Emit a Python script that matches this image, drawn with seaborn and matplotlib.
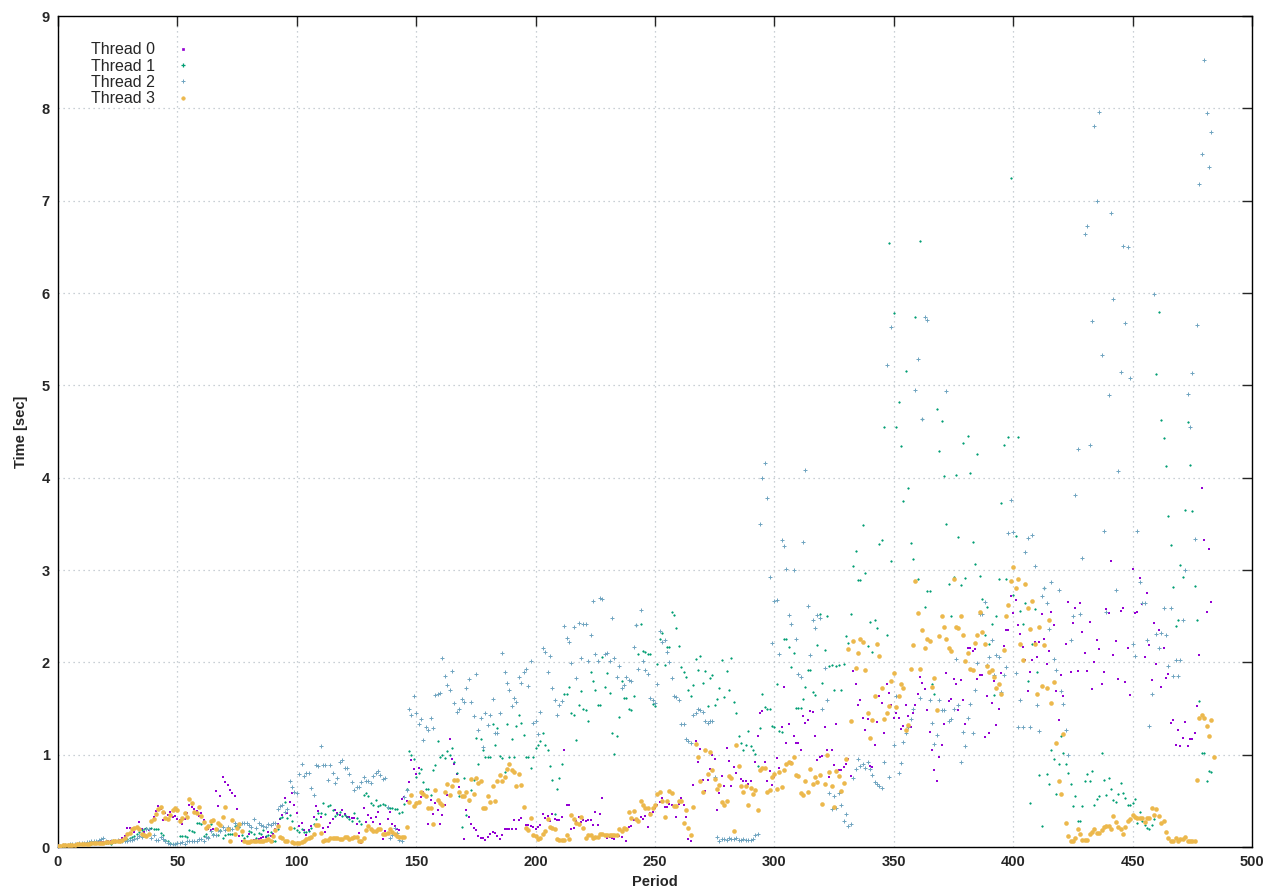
import numpy as np
import pandas as pd
import matplotlib
matplotlib.use('Agg')
import matplotlib.pyplot as plt
from matplotlib.lines import Line2D
import seaborn as sns

# time per period [sec], one value per period
thread0 = [0.01,0.01,0.01,0.02,0.02,0.02,0.02,0.02,0.03,0.03,
           0.03,0.03,0.03,0.04,0.04,0.04,0.04,0.05,0.05,0.05,
           0.05,0.06,0.06,0.06,0.07,0.07,0.08,0.10,0.12,0.21,
           0.21,0.18,0.16,0.22,0.27,0.20,0.16,0.20,0.18,0.20,
           0.32,0.39,0.44,0.41,0.29,0.37,0.35,0.38,0.33,0.34,
           0.30,0.29,0.25,0.30,0.37,0.45,0.43,0.41,0.39,0.34,
           0.37,0.29,0.19,0.20,0.18,0.20,0.61,0.44,0.55,0.76,
           0.70,0.67,0.62,0.58,0.55,0.41,0.12,0.07,0.05,0.05,
           0.14,0.05,0.08,0.08,0.09,0.10,0.11,0.11,0.16,0.12,
           0.14,0.20,0.25,0.30,0.35,0.53,0.37,0.49,0.58,0.45,
           0.37,0.23,0.26,0.18,0.13,0.18,0.23,0.33,0.44,0.39,
           0.33,0.21,0.16,0.22,0.26,0.30,0.40,0.37,0.35,0.40,
           0.36,0.33,0.32,0.31,0.31,0.25,0.15,0.04,0.42,0.27,
           0.35,0.31,0.27,0.32,0.38,0.25,0.09,0.17,0.30,0.38,
           0.25,0.23,0.20,0.18,0.52,0.54,0.50,0.70,0.94,0.85,
           0.79,0.86,0.54,0.60,0.54,0.25,0.51,0.36,0.48,0.40,
           0.25,0.35,0.45,0.56,1.17,0.95,0.90,0.79,0.65,0.54,
           0.09,0.40,0.32,0.25,0.21,0.18,0.12,0.10,0.10,0.08,
           0.11,0.14,0.16,0.15,0.12,0.09,0.13,0.19,0.19,0.19,
           0.19,0.29,0.20,0.29,0.31,0.43,0.24,0.24,0.23,0.22,
           0.20,0.22,0.24,0.36,0.31,0.34,0.28,0.36,0.30,0.29,
           0.29,0.33,1.05,0.45,0.45,0.19,0.21,0.28,0.32,0.27,
           0.29,0.28,0.29,0.29,0.24,0.38,0.24,0.36,0.53,0.12,
           0.10,0.11,0.10,0.09,0.13,0.12,0.11,0.19,0.06,0.22,
           0.23,0.29,0.30,0.29,0.32,0.30,0.34,0.22,0.37,0.38,
           0.42,0.45,0.49,0.53,0.43,0.43,0.47,0.45,0.43,0.32,
           0.47,0.53,0.46,0.32,0.09,0.06,0.67,1.15,0.92,1.06,
           0.73,0.61,0.73,0.85,1.00,0.95,0.40,0.59,0.77,0.66,
           1.07,0.93,0.66,0.87,0.80,0.87,0.74,0.71,0.71,0.68,
           0.71,0.56,0.92,1.20,1.45,1.47,0.92,0.71,0.82,0.67,
           0.76,0.96,0.86,1.30,1.73,1.13,1.33,0.92,1.20,1.13,
           1.13,1.05,1.42,1.34,1.38,1.47,1.46,1.20,0.94,0.97,
           0.99,1.30,1.05,0.76,1.05,0.89,1.33,0.83,0.83,0.87,
           0.90,0.95,0.77,1.91,1.77,1.54,1.59,1.40,1.27,1.39,
           0.88,0.87,1.10,1.35,1.63,1.56,1.23,1.77,1.67,1.54,
           1.40,1.45,1.40,1.28,1.31,1.54,1.42,1.30,1.45,1.54,
           1.66,1.84,1.78,1.71,1.48,1.25,1.05,0.83,0.72,0.98,
           1.11,1.33,1.88,1.58,1.60,1.82,1.77,1.48,1.81,1.59,
           1.33,2.15,2.15,2.12,2.14,1.82,1.86,1.86,1.19,1.63,
           1.24,1.56,1.80,1.32,1.50,1.88,2.18,2.35,2.35,2.72,
           2.53,2.68,2.40,2.31,2.17,2.03,1.69,1.90,2.03,2.22,
           2.06,2.22,2.52,2.25,1.98,2.12,2.54,2.40,1.69,1.38,
           1.86,1.63,2.20,2.65,1.89,2.43,2.59,1.91,2.64,2.33,
           2.10,1.91,2.44,1.71,2.00,2.24,2.14,1.76,1.89,2.58,
           2.53,3.10,2.08,2.23,1.82,2.56,2.59,1.79,2.15,1.65,
           3.01,2.53,2.54,2.91,2.63,2.06,2.75,2.19,1.81,2.43,
           1.98,2.35,1.73,2.15,1.83,1.87,1.34,1.38,1.10,1.27,
           1.09,1.18,1.35,1.09,1.17,1.17,1.23,1.53,2.08,3.89,
           3.33,2.55,3.23,2.65]

thread1 = [0.01,0.01,0.01,0.02,0.02,0.02,0.02,0.02,0.02,0.03,
           0.03,0.03,0.03,0.03,0.03,0.04,0.04,0.04,0.04,0.04,
           0.04,0.04,0.03,0.05,0.05,0.06,0.06,0.07,0.08,0.09,
           0.10,0.11,0.12,0.14,0.16,0.18,0.20,0.21,0.19,0.21,
           0.20,0.20,0.20,0.15,0.13,0.08,0.06,0.04,0.03,0.03,
           0.04,0.12,0.12,0.12,0.11,0.18,0.17,0.16,0.26,0.26,
           0.25,0.12,0.14,0.11,0.25,0.14,0.19,0.13,0.18,0.10,
           0.13,0.14,0.14,0.14,0.23,0.24,0.22,0.13,0.10,0.12,
           0.17,0.16,0.14,0.10,0.15,0.14,0.18,0.12,0.13,0.16,
           0.07,0.07,0.20,0.31,0.33,0.49,0.31,0.35,0.28,0.21,
           0.18,0.16,0.19,0.16,0.16,0.17,0.21,0.25,0.30,0.37,
           0.37,0.48,0.36,0.44,0.45,0.40,0.34,0.36,0.38,0.34,
           0.35,0.32,0.30,0.28,0.37,0.31,0.28,0.25,0.56,0.58,
           0.55,0.48,0.45,0.51,0.44,0.46,0.47,0.46,0.42,0.42,
           0.42,0.41,0.41,0.37,0.38,0.47,0.63,1.04,1.00,0.95,
           0.76,0.80,0.84,0.70,0.63,0.63,0.56,0.83,0.89,1.15,
           0.97,1.00,0.96,1.04,1.00,1.07,0.92,0.80,0.55,0.22,
           0.75,0.35,0.50,0.62,0.73,1.18,0.90,1.17,1.05,0.98,
           0.97,0.97,1.33,1.10,1.29,0.99,0.96,0.81,1.33,0.98,
           1.17,0.97,1.31,1.43,1.34,1.21,0.98,0.98,0.86,0.98,
           1.07,1.10,1.15,1.23,1.10,1.05,0.88,0.73,0.36,0.63,
           0.75,0.90,1.66,1.66,1.73,1.45,1.43,1.16,1.54,1.69,
           1.50,1.48,1.37,1.90,1.80,1.70,1.54,1.54,2.06,1.73,
           1.88,1.67,1.24,1.01,1.20,1.41,1.80,1.61,1.61,1.49,
           1.48,1.64,2.40,2.09,2.42,2.12,2.11,2.09,2.09,1.55,
           1.53,1.98,2.25,2.32,1.97,2.17,2.17,2.54,2.51,2.37,
           2.18,1.95,1.90,1.84,1.70,1.64,1.75,2.04,1.92,2.07,
           1.78,1.91,1.53,1.83,1.86,1.54,1.60,1.72,2.03,1.62,
           1.91,1.70,2.05,1.57,1.45,1.20,1.13,1.05,1.10,1.26,
           1.09,1.05,1.01,0.88,1.29,1.66,1.52,1.50,1.50,1.31,
           1.30,1.76,1.26,1.25,2.25,2.25,2.17,1.95,2.10,1.51,
           1.51,1.51,1.60,1.73,1.92,1.92,1.68,1.65,2.19,2.52,
           1.78,2.13,2.50,1.96,1.97,1.70,1.96,1.97,1.70,1.98,
           2.28,2.21,2.52,3.04,3.21,2.89,2.89,3.49,2.97,2.18,
           2.44,2.11,2.46,2.37,3.28,3.32,4.55,2.30,6.54,3.10,
           5.78,4.55,4.82,4.34,3.75,5.16,3.89,3.29,3.12,5.74,
           2.90,6.56,4.63,2.60,2.77,2.77,1.76,1.66,4.74,4.29,
           4.61,4.02,3.50,2.85,2.50,2.92,4.03,3.36,2.84,4.38,
           2.91,4.45,4.05,3.30,3.07,4.26,2.93,2.69,2.30,2.60,
           2.20,2.42,1.65,2.50,2.90,3.73,4.35,2.90,4.44,7.25,
           2.73,3.37,4.44,2.56,2.42,2.64,1.80,0.48,2.20,2.58,
           1.90,0.78,0.23,2.80,0.79,0.68,1.05,0.95,0.57,0.90,
           1.20,1.02,0.90,0.80,0.68,0.44,0.55,0.28,0.28,0.44,
           0.72,0.79,0.72,0.82,0.45,0.52,0.55,1.02,0.73,0.56,
           0.75,0.63,0.51,0.49,0.57,0.69,0.59,0.53,0.46,0.45,
           0.48,0.52,0.26,0.38,0.28,0.24,0.21,0.20,0.24,0.30,
           5.12,5.79,4.62,4.43,4.13,3.58,3.27,2.82,2.39,2.46,
           3.05,2.92,3.65,4.60,4.14,3.64,2.83,2.46,1.58,1.02,
           1.02,0.72,0.82,0.81]

thread2 = [0.01,0.01,0.02,0.02,0.02,0.03,0.03,0.03,0.03,0.04,
           0.04,0.04,0.05,0.05,0.06,0.06,0.07,0.08,0.09,0.10,
           0.06,0.05,0.06,0.07,0.06,0.08,0.07,0.06,0.07,0.07,
           0.08,0.08,0.09,0.10,0.12,0.11,0.14,0.20,0.20,0.10,
           0.13,0.08,0.08,0.11,0.09,0.06,0.04,0.03,0.03,0.03,
           0.04,0.04,0.05,0.03,0.06,0.06,0.06,0.07,0.06,0.09,
           0.09,0.06,0.11,0.10,0.17,0.13,0.13,0.18,0.17,0.22,
           0.18,0.22,0.20,0.20,0.26,0.23,0.24,0.26,0.26,0.26,
           0.24,0.22,0.30,0.21,0.26,0.24,0.23,0.22,0.25,0.24,
           0.26,0.26,0.41,0.44,0.46,0.38,0.41,0.71,0.65,0.60,
           0.58,0.79,0.90,0.77,0.80,0.80,0.64,0.56,0.89,0.88,
           1.09,0.89,0.89,0.73,0.89,0.80,0.69,0.75,0.92,0.94,
           0.86,0.86,0.79,0.70,0.62,0.65,0.65,0.70,0.76,0.72,
           0.72,0.69,0.77,0.80,0.82,0.78,0.74,0.75,0.43,0.10,
           0.13,0.21,0.15,0.08,0.07,0.54,0.62,1.49,1.43,1.63,
           1.45,1.33,1.39,1.16,1.30,1.27,1.40,1.29,1.65,1.66,
           1.67,2.05,1.85,1.75,1.70,1.91,1.56,1.46,1.50,1.60,
           1.57,1.72,1.82,1.57,1.42,1.87,1.27,1.40,1.08,1.45,
           1.32,1.43,1.60,1.23,1.23,1.45,2.10,1.90,1.78,1.70,
           1.53,1.61,1.57,1.84,1.78,1.90,1.93,1.74,2.01,1.34,
           1.36,1.22,1.46,2.16,2.11,1.89,2.07,1.72,1.59,1.43,
           1.54,1.58,2.39,2.26,2.22,1.99,2.38,1.83,2.43,2.05,
           2.42,2.42,2.01,2.30,2.66,2.09,2.01,2.70,2.69,2.09,
           2.10,2.01,2.48,2.05,1.84,1.96,1.72,1.75,1.84,1.81,
           1.80,2.17,2.40,1.93,2.57,2.01,1.92,1.87,1.61,1.59,
           1.56,1.77,2.34,2.22,2.24,2.11,2.00,1.83,1.64,1.62,
           1.59,1.33,1.33,1.17,1.15,1.13,1.43,1.45,1.50,1.48,
           1.46,1.36,1.34,1.36,1.37,0.76,0.11,0.07,0.09,0.09,
           0.08,0.10,0.09,0.09,0.10,0.08,0.08,0.09,0.08,0.08,
           0.08,0.09,0.13,0.14,3.50,4.00,4.16,3.78,2.92,2.21,
           2.66,2.67,2.09,3.33,3.26,3.01,2.51,2.41,3.00,2.25,
           1.87,1.84,3.30,4.08,2.61,2.08,2.46,2.37,2.51,2.48,
           1.50,1.94,1.59,0.59,0.41,0.55,0.42,0.58,0.45,0.28,
           0.36,0.23,0.25,0.75,0.85,0.95,0.88,0.90,0.86,0.92,
           0.85,0.78,0.70,0.68,0.66,0.64,0.92,5.22,0.76,5.63,
           1.11,1.64,0.80,0.91,1.14,1.23,1.30,1.39,1.50,4.95,
           5.28,1.61,4.63,5.74,5.71,1.59,1.34,1.12,1.21,1.59,
           1.48,1.48,4.94,1.36,1.39,1.50,2.04,1.54,0.92,1.25,
           1.09,1.40,1.55,1.24,1.70,1.99,2.52,2.52,2.65,1.97,
           2.06,2.24,1.86,2.08,2.06,1.68,1.86,1.95,3.40,3.76,
           3.41,1.88,1.30,1.59,1.30,3.20,3.35,1.30,3.38,3.04,
           1.54,1.26,2.72,2.80,2.64,2.36,2.87,2.04,1.92,2.78,
           1.69,1.55,1.27,1.00,2.24,2.50,3.81,4.31,2.52,3.13,
           6.64,6.73,4.35,5.70,7.81,7.00,7.96,5.33,3.42,2.55,
           4.90,6.87,5.94,2.78,4.07,5.14,6.51,5.67,6.50,5.08,
           2.20,2.07,3.42,2.87,2.64,2.64,2.24,1.31,1.66,5.99,
           2.31,2.15,2.32,2.59,2.30,1.96,2.59,1.85,2.02,1.85,
           2.02,2.46,3.00,4.91,4.55,5.13,3.34,5.65,7.18,7.51,
           8.52,7.95,7.37,7.74]

thread3 = [0.01,0.01,0.02,0.02,0.02,0.02,0.02,0.02,0.03,0.03,
           0.03,0.03,0.03,0.03,0.04,0.04,0.04,0.04,0.04,0.04,
           0.05,0.05,0.05,0.06,0.06,0.06,0.07,0.08,0.10,0.14,
           0.15,0.20,0.21,0.22,0.20,0.14,0.13,0.12,0.14,0.28,
           0.30,0.36,0.41,0.43,0.38,0.31,0.30,0.35,0.40,0.42,
           0.40,0.28,0.31,0.37,0.33,0.52,0.48,0.38,0.37,0.43,
           0.34,0.27,0.21,0.23,0.28,0.29,0.19,0.26,0.24,0.32,
           0.43,0.19,0.07,0.29,0.14,0.21,0.25,0.17,0.06,0.05,
           0.05,0.06,0.06,0.07,0.07,0.07,0.07,0.08,0.09,0.06,
           0.12,0.18,0.23,0.11,0.10,0.06,0.06,0.21,0.05,0.04,
           0.04,0.04,0.05,0.07,0.09,0.10,0.11,0.14,0.24,0.24,
           0.15,0.07,0.08,0.08,0.10,0.10,0.10,0.10,0.09,0.09,
           0.11,0.11,0.09,0.10,0.11,0.11,0.07,0.07,0.10,0.18,
           0.23,0.20,0.17,0.17,0.20,0.20,0.14,0.14,0.15,0.20,
           0.16,0.14,0.12,0.11,0.11,0.11,0.22,0.49,0.56,0.44,
           0.48,0.49,0.60,0.57,0.55,0.42,0.42,0.25,0.62,0.51,
           0.48,0.46,0.60,0.68,0.56,0.66,0.73,0.73,0.60,0.55,
           0.55,0.60,0.51,0.74,0.57,0.75,0.69,0.72,0.42,0.42,
           0.55,0.49,0.66,0.50,0.71,0.78,0.71,0.76,0.85,0.90,
           0.83,0.81,0.66,0.79,0.67,0.43,0.21,0.18,0.31,0.13,
           0.12,0.09,0.10,0.14,0.17,0.30,0.22,0.21,0.19,0.09,
           0.08,0.08,0.08,0.13,0.09,0.35,0.30,0.26,0.25,0.32,
           0.21,0.10,0.13,0.13,0.10,0.11,0.11,0.14,0.14,0.13,
           0.13,0.13,0.13,0.13,0.13,0.19,0.17,0.21,0.19,0.38,
           0.31,0.39,0.30,0.28,0.50,0.46,0.42,0.42,0.36,0.42,
           0.46,0.57,0.60,0.50,0.32,0.50,0.61,0.59,0.44,0.44,
           0.50,0.50,0.26,0.40,0.21,0.13,0.43,1.12,0.98,0.72,
           0.60,1.05,0.79,1.03,0.83,0.74,0.63,0.67,0.49,0.46,
           0.50,0.77,0.75,0.17,1.10,0.88,0.66,0.60,0.66,0.46,
           0.64,0.57,0.62,0.40,0.83,0.86,0.86,0.60,0.62,0.76,
           0.79,0.63,0.81,0.65,0.83,0.90,0.92,0.91,0.98,0.78,
           0.77,0.58,0.56,0.72,0.60,0.84,0.68,0.76,0.70,0.78,
           0.47,0.68,1.00,0.81,0.66,0.43,0.82,0.77,0.61,0.69,
           0.95,2.14,1.37,2.23,1.94,2.10,2.25,2.22,1.92,1.45,
           1.18,1.38,1.63,2.20,2.07,1.72,1.39,1.45,1.53,1.80,
           1.88,1.52,1.63,1.77,1.72,1.27,1.32,1.93,2.19,2.88,
           2.53,1.93,2.35,2.16,2.25,2.23,1.73,1.83,1.48,2.28,
           2.50,2.38,2.25,2.16,2.12,2.90,2.38,2.37,2.50,2.30,
           2.01,2.10,1.93,1.92,2.21,2.30,2.55,2.33,2.20,1.96,
           1.90,1.92,1.84,1.72,1.77,1.66,2.13,2.50,2.62,2.88,
           3.03,2.80,2.90,2.20,2.03,2.85,2.59,2.36,2.66,2.20,
           1.66,2.38,1.74,2.19,1.72,2.46,1.56,1.79,1.13,0.72,
           0.57,1.22,0.26,0.12,0.06,0.06,0.10,0.19,0.14,0.08,
           0.08,0.08,0.14,0.16,0.19,0.15,0.15,0.18,0.22,0.23,
           0.23,0.19,0.34,0.27,0.22,0.19,0.14,0.22,0.28,0.30,
           0.35,0.32,0.31,0.31,0.31,0.27,0.31,0.31,0.42,0.35,
           0.41,0.34,0.26,0.28,0.16,0.10,0.06,0.06,0.10,0.06,
           0.09,0.09,0.11,0.07,0.06,0.06,0.06,0.73,1.40,1.43,
           1.40,1.31,1.20,1.38,0.98]

labels = ['Thread 0', 'Thread 1', 'Thread 2', 'Thread 3']
series = [thread0, thread1, thread2, thread3]

frames = []
for name, vals in zip(labels, series):
    frames.append(pd.DataFrame({'Period': np.arange(len(vals)), 'Time': vals, 'Thread': name}))
df = pd.concat(frames, ignore_index=True)

colors = {'Thread 0': '#9400d3', 'Thread 1': '#009e73', 'Thread 2': '#6ea4c0', 'Thread 3': '#ecb84c'}
markers = {'Thread 0': 's', 'Thread 1': '+', 'Thread 2': '+', 'Thread 3': 'o'}
sizes = {'Thread 0': 2.2, 'Thread 1': 4, 'Thread 2': 9, 'Thread 3': 11}
widths = {'Thread 0': 0, 'Thread 1': 0.9, 'Thread 2': 0.7, 'Thread 3': 0}

sns.set_style('white')
plt.rcParams['font.family'] = ['Liberation Sans', 'DejaVu Sans']

fig = plt.figure(figsize=(12.8, 8.96), dpi=100)
ax = fig.add_axes([58/1280, 49/896, 1194/1280, 831/896])

for name in labels:
    sub = df[df['Thread'] == name]
    sns.scatterplot(data=sub, x='Period', y='Time', ax=ax, color=colors[name],
                    marker=markers[name], s=sizes[name], linewidth=widths[name],
                    edgecolor=colors[name] if widths[name] == 0 else None, legend=False, zorder=3)

ax.set_xlim(0, 500)
ax.set_ylim(0, 9)
ax.set_xticks(np.arange(0, 501, 50))
ax.set_yticks(np.arange(0, 10, 1))
ax.grid(True, color='#b8c0c8', linestyle=(0, (1, 3)), linewidth=0.9)
ax.set_axisbelow(True)
for sp in ax.spines.values():
    sp.set_color('black')
    sp.set_linewidth(1.0)
ax.tick_params(direction='in', length=7, width=1, top=True, right=True,
               labelsize=10.5, pad=6)
for lab in ax.get_xticklabels() + ax.get_yticklabels():
    lab.set_fontweight('bold')
ax.set_xlabel('Period', fontsize=10.5, fontweight='bold', labelpad=4)
ax.set_ylabel('Time [sec]', fontsize=10.5, fontweight='bold', labelpad=10)

handles = [Line2D([], [], linestyle='none', marker=markers[n], color=colors[n],
                  markersize=2.5 if n != 'Thread 0' else 1.5, markeredgewidth=widths[n] if widths[n] else 0.5)
           for n in labels]
ax.legend(handles, labels, loc='upper left', bbox_to_anchor=(0.022, 0.976), frameon=False,
          markerfirst=False, fontsize=11.5, handlelength=1.0, handletextpad=1.3,
          labelspacing=0.08, borderaxespad=0)

fig.savefig('out.png', dpi=100)
